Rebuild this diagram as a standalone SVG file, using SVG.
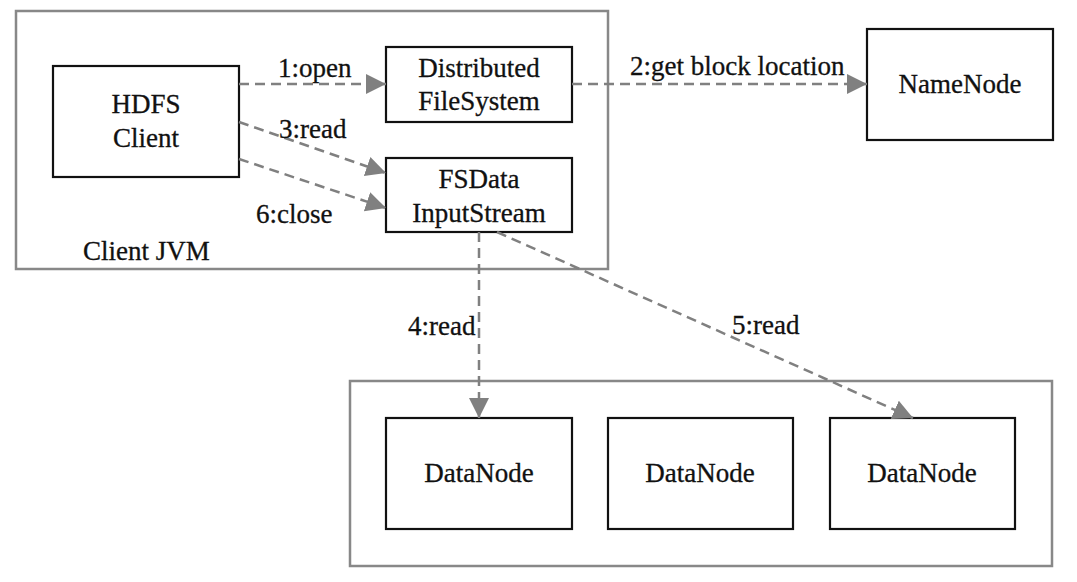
<svg xmlns="http://www.w3.org/2000/svg" width="1077" height="582" viewBox="0 0 1077 582">
<style>
text{font-family:"Liberation Serif","Times New Roman",serif;font-size:27px;fill:#111;stroke:#111;stroke-width:0.3}
.c{text-anchor:middle}
.box{fill:#fff;stroke:#111;stroke-width:2.2}
.grp{fill:none;stroke:#888;stroke-width:2.5}
.e{stroke:#808080;stroke-width:2.5;stroke-dasharray:10 6;fill:none}
</style>
<defs>
<marker id="ah" markerUnits="userSpaceOnUse" markerWidth="22" markerHeight="22" refX="20" refY="10" orient="auto">
<path d="M0,0 L20,10 L0,20 Z" fill="#808080"/>
</marker>
</defs>
<rect width="1077" height="582" fill="#fff"/>
<g id="client-jvm">
<rect class="grp" x="16" y="11" width="592" height="258"/>
<text x="83" y="260">Client JVM</text>
</g>
<g id="datanode-group">
<rect class="grp" x="350" y="381" width="702" height="185"/>
</g>
<g id="hdfs-client">
<rect class="box" x="53" y="66" width="186" height="111"/>
<text class="c" x="146" y="113">HDFS</text>
<text class="c" x="146" y="147">Client</text>
</g>
<g id="distributed-filesystem">
<rect class="box" x="386" y="47" width="186" height="75"/>
<text class="c" x="479" y="77">Distributed</text>
<text class="c" x="479" y="110">FileSystem</text>
</g>
<g id="fsdata-inputstream">
<rect class="box" x="386" y="158" width="186" height="74"/>
<text class="c" x="479" y="188">FSData</text>
<text class="c" x="479" y="222">InputStream</text>
</g>
<g id="namenode">
<rect class="box" x="867" y="29" width="186" height="111"/>
<text class="c" x="960" y="93">NameNode</text>
</g>
<g id="datanode-1">
<rect class="box" x="386" y="418" width="186" height="111"/>
<text class="c" x="479" y="482">DataNode</text>
</g>
<g id="datanode-2">
<rect class="box" x="608" y="418" width="185" height="111"/>
<text class="c" x="700" y="482">DataNode</text>
</g>
<g id="datanode-3">
<rect class="box" x="830" y="418" width="185" height="111"/>
<text class="c" x="922" y="482">DataNode</text>
</g>
<g id="connectors">
<line class="e" x1="239" y1="84" x2="386" y2="84" marker-end="url(#ah)"/>
<line class="e" x1="572" y1="84" x2="867" y2="84" marker-end="url(#ah)"/>
<line class="e" x1="239" y1="122" x2="386" y2="173" marker-end="url(#ah)"/>
<line class="e" x1="239" y1="159" x2="386" y2="208" marker-end="url(#ah)"/>
<line class="e" x1="479" y1="232" x2="479" y2="418" marker-end="url(#ah)"/>
<line class="e" x1="497" y1="232" x2="913" y2="418" marker-end="url(#ah)"/>
<text x="278" y="77">1:open</text>
<text x="630" y="75">2:get block location</text>
<text x="279" y="138">3:read</text>
<text x="256" y="223">6:close</text>
<text x="408" y="335">4:read</text>
<text x="732" y="334">5:read</text>
</g>
</svg>
